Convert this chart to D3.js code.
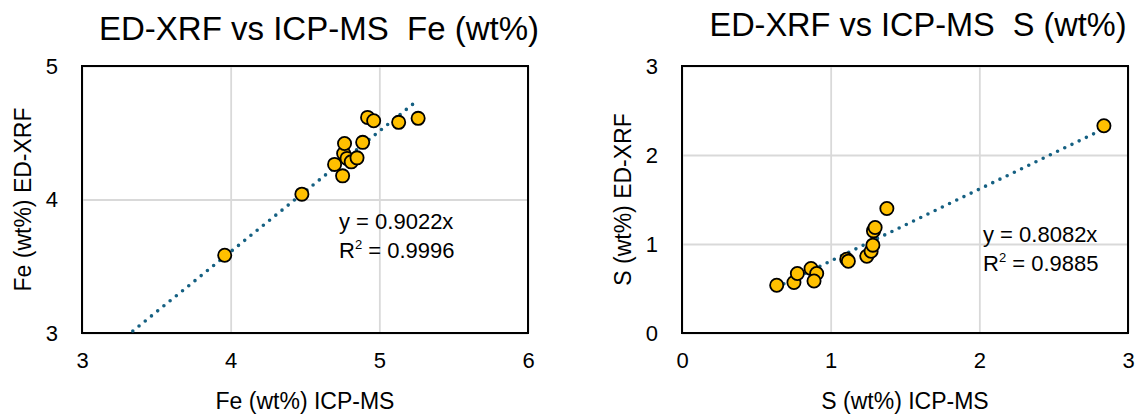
<!DOCTYPE html>
<html>
<head>
<meta charset="utf-8">
<script src="https://cdn.jsdelivr.net/npm/d3@7"></script>
<style>
  html, body { margin: 0; padding: 0; background: #fff; }
  svg { display: block; font-family: "Liberation Sans", Arial, sans-serif; }
  .tick line { stroke: #d9d9d9; stroke-width: 1.8; }
  .tick text { fill: #000; }
</style>
</head>
<body>
<script>
var width = 1137;
var height = 416;

// Fe panel data (wt%)
var feIcp = [3.96, 4.479, 4.699, 4.753, 4.760, 4.766, 4.783, 4.811, 4.850, 4.888, 4.921, 4.962, 5.130, 5.261];
var feXrf = [3.582, 4.040, 4.263, 4.177, 4.345, 4.420, 4.308, 4.282, 4.312, 4.428, 4.615, 4.590, 4.578, 4.608];
var feTicks = [3, 4, 5, 6];
var feYTicks = [3, 4, 5];
var feSlope = 0.9022;
var feR2 = "0.9996";
var feTrendX = [3.3, 5.261];

// S panel data (wt%)
var sIcp = [0.637, 0.753, 0.776, 0.868, 0.906, 0.888, 1.108, 1.119, 1.243, 1.272, 1.284, 1.288, 1.299, 1.378, 2.838];
var sXrf = [0.537, 0.567, 0.668, 0.724, 0.668, 0.585, 0.829, 0.807, 0.863, 0.919, 0.987, 1.147, 1.186, 1.399, 2.328];
var sTicks = [0, 1, 2, 3];
var sYTicks = [0, 1, 2, 3];
var sSlope = 0.8082;
var sR2 = "0.9885";
var sTrendX = [0.637, 2.838];

var svg = d3.select("body")
  .append("svg")
  .attr("width", width)
  .attr("height", height);

svg.append("rect")
  .attr("width", width)
  .attr("height", height)
  .attr("fill", "#fff");

var panels = [
  {
    id: "fe", left: 82, top: 66, w: 446, h: 267,
    xs: feIcp, ys: feXrf, xTicks: feTicks, yTicks: feYTicks,
    slope: feSlope, r2: feR2, trendX: feTrendX,
    title: "ED-XRF vs ICP-MS  Fe (wt%)", titleX: 319, titleY: 40, titleSize: 33,
    xTitle: "Fe (wt%) ICP-MS", yTitle: "Fe (wt%) ED-XRF", yTitleX: 23,
    eqX: 339, eqY: 229
  },
  {
    id: "s", left: 682, top: 66, w: 446, h: 267,
    xs: sIcp, ys: sXrf, xTicks: sTicks, yTicks: sYTicks,
    slope: sSlope, r2: sR2, trendX: sTrendX,
    title: "ED-XRF vs ICP-MS  S (wt%)", titleX: 918, titleY: 36, titleSize: 32.5,
    xTitle: "S (wt%) ICP-MS", yTitle: "S (wt%) ED-XRF", yTitleX: 623,
    eqX: 983, eqY: 242
  }
];

panels.forEach(drawPanel);

function drawPanel(p) {
  var x = d3.scaleLinear()
    .domain(d3.extent(p.xTicks))
    .range([p.left, p.left + p.w]);
  var y = d3.scaleLinear()
    .domain(d3.extent(p.yTicks))
    .range([p.top + p.h, p.top]);

  // gridlines
  svg.append("g")
    .attr("transform", "translate(0," + (p.top + p.h) + ")")
    .call(d3.axisBottom(x).tickValues(p.xTicks).tickSize(-p.h).tickFormat(""))
    .call(function(g) { g.select(".domain").remove(); });
  svg.append("g")
    .attr("transform", "translate(" + p.left + ",0)")
    .call(d3.axisLeft(y).tickValues(p.yTicks).tickSize(-p.w).tickFormat(""))
    .call(function(g) { g.select(".domain").remove(); });

  // tick labels
  svg.append("g")
    .attr("transform", "translate(0," + (p.top + p.h) + ")")
    .call(d3.axisBottom(x).tickValues(p.xTicks).tickSize(0).tickPadding(19).tickFormat(d3.format("d")))
    .call(function(g) {
      g.select(".domain").remove();
      g.attr("font-size", 22).attr("font-family", "Liberation Sans, Arial, sans-serif");
    });
  svg.append("g")
    .attr("transform", "translate(" + p.left + ",0)")
    .call(d3.axisLeft(y).tickValues(p.yTicks).tickSize(0).tickPadding(24).tickFormat(d3.format("d")))
    .call(function(g) {
      g.select(".domain").remove();
      g.attr("font-size", 22).attr("font-family", "Liberation Sans, Arial, sans-serif");
    });

  // plot border
  svg.append("rect")
    .attr("x", p.left)
    .attr("y", p.top)
    .attr("width", p.w)
    .attr("height", p.h)
    .attr("fill", "none")
    .attr("stroke", "#000")
    .attr("stroke-width", 2);

  // trendline y = slope * x
  svg.append("clipPath")
    .attr("id", "clip-" + p.id)
    .append("rect")
    .attr("x", p.left)
    .attr("y", p.top)
    .attr("width", p.w)
    .attr("height", p.h);

  var line = d3.line()
    .x(function(d) { return x(d); })
    .y(function(d) { return y(p.slope * d); });

  svg.append("path")
    .datum(p.trendX)
    .attr("clip-path", "url(#clip-" + p.id + ")")
    .attr("d", line)
    .attr("fill", "none")
    .attr("stroke", "#156082")
    .attr("stroke-width", 3.6)
    .attr("stroke-linecap", "round")
    .attr("stroke-dasharray", "0,8");

  // points
  svg.append("g")
    .selectAll("circle")
    .data(p.xs.map(function(v, i) { return [v, p.ys[i]]; }))
    .enter().append("circle")
    .attr("cx", function(d) { return x(d[0]); })
    .attr("cy", function(d) { return y(d[1]); })
    .attr("r", 6.6)
    .attr("fill", "#ffc000")
    .attr("stroke", "#000")
    .attr("stroke-width", 1.8);

  // equation
  svg.append("text")
    .attr("x", p.eqX)
    .attr("y", p.eqY)
    .attr("font-size", 22)
    .text("y = " + p.slope.toFixed(4) + "x");
  var r2 = svg.append("text")
    .attr("x", p.eqX)
    .attr("y", p.eqY + 29)
    .attr("font-size", 22);
  r2.append("tspan").text("R");
  r2.append("tspan").attr("font-size", 13).attr("dy", -9).text("2");
  r2.append("tspan").attr("dy", 9).text(" = " + p.r2);

  // titles
  svg.append("text")
    .attr("x", p.titleX)
    .attr("y", p.titleY)
    .attr("text-anchor", "middle")
    .attr("font-size", p.titleSize)
    .style("white-space", "pre")
    .text(p.title);

  svg.append("text")
    .attr("x", p.left + p.w / 2)
    .attr("y", 409)
    .attr("text-anchor", "middle")
    .attr("font-size", 23)
    .text(p.xTitle);

  svg.append("text")
    .attr("transform", "translate(" + p.yTitleX + "," + (p.top + p.h / 2) + ") rotate(-90)")
    .attr("text-anchor", "middle")
    .attr("dy", "0.35em")
    .attr("font-size", 23)
    .text(p.yTitle);
}
</script>
</body>
</html>
